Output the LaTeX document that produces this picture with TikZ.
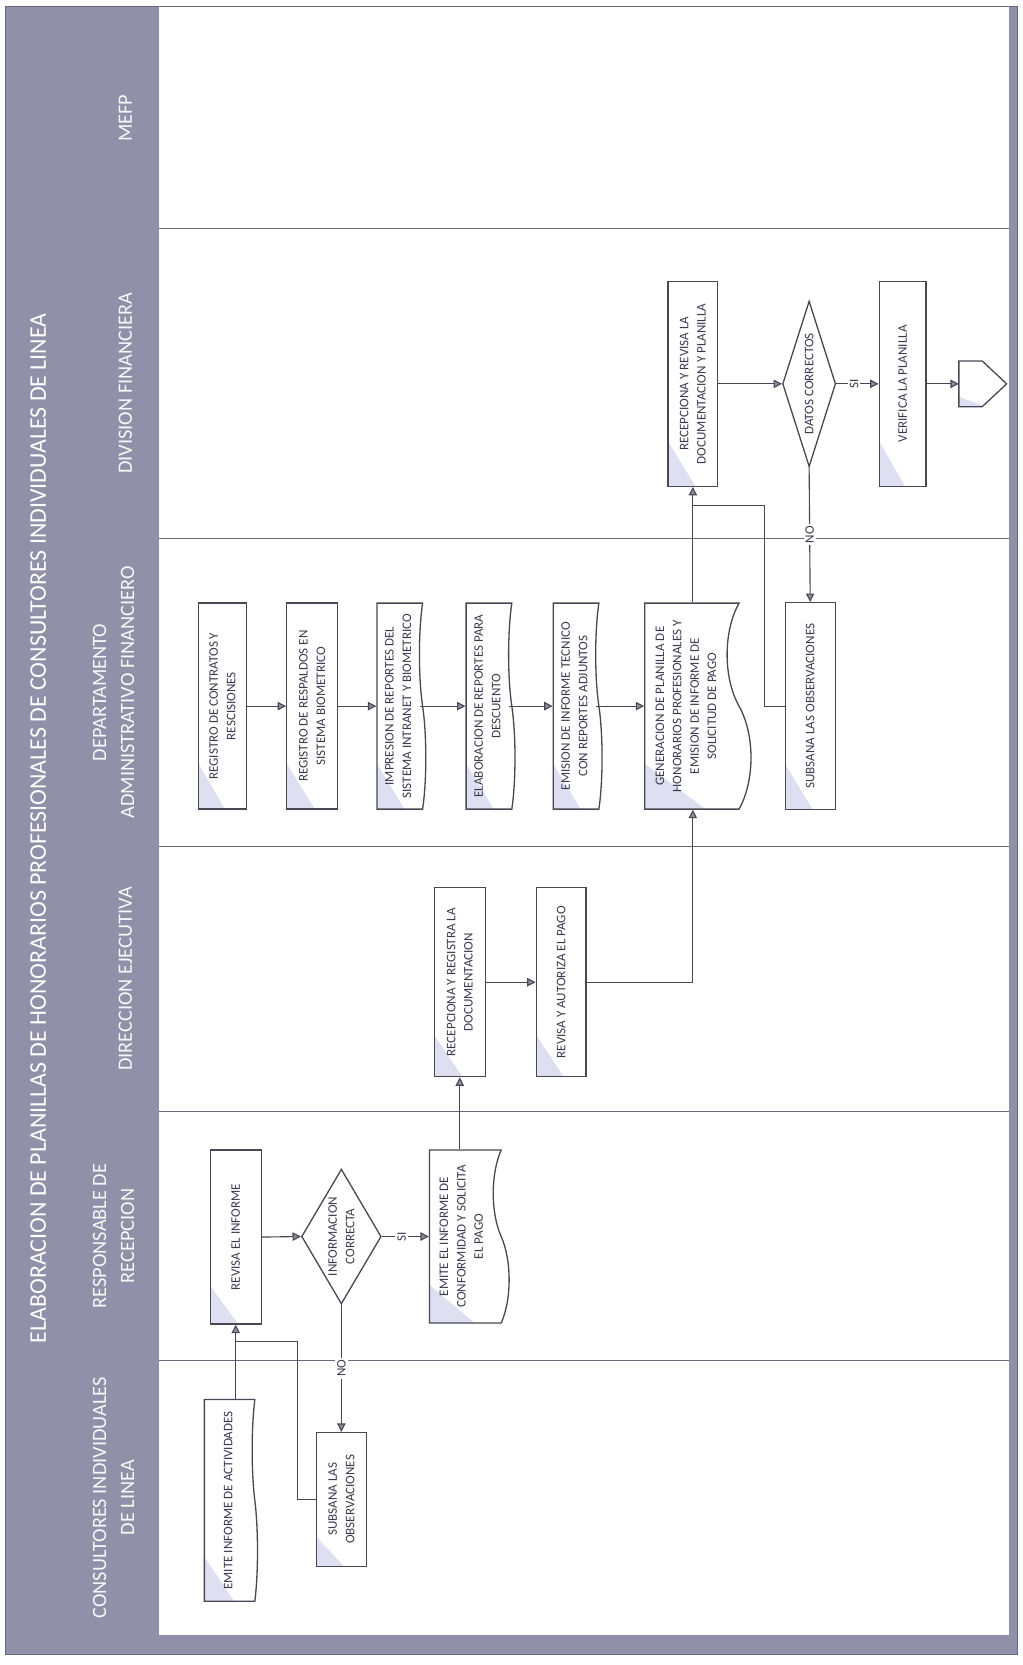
\documentclass[tikz,border=0pt]{standalone}
\usepackage{fontspec}
\setmainfont{Carlito}
\usetikzlibrary{arrows.meta,positioning,calc,shapes.geometric,shapes.symbols}
\definecolor{headcol}{RGB}{144,144,168}
\definecolor{linecol}{RGB}{72,72,84}
\definecolor{lanecol}{RGB}{105,105,125}
\definecolor{tintcol}{RGB}{222,224,242}
\definecolor{tipcol}{RGB}{140,140,155}
\definecolor{txtcol}{RGB}{58,58,78}
\newcommand{\boxtxt}{\fontsize{7}{9.3}\selectfont}

\tikzset{
  lanelbl/.style={font=\fontsize{10.9}{15}\selectfont,text=white!94!headcol,align=center},
  tinted/.style={path picture={
      \fill[tintcol] (path picture bounding box.south west)
        -- ($(path picture bounding box.south west)!0.55!(path picture bounding box.south east)$)
        -- ($(path picture bounding box.south west)!0.22!(path picture bounding box.north west)$) -- cycle;}},
  procbox/.style={rectangle,draw=linecol,line width=0.7pt,fill=white,tinted,font=\boxtxt,
    text=txtcol,align=center,minimum height=0.94cm,inner sep=1pt},
  docbox/.style={procbox,tape,tape bend top=none,tape bend bottom=in and out,tape bend height=1.2mm},
  decbox/.style={diamond,draw=linecol,line width=0.7pt,fill=white,font=\boxtxt,text=txtcol,
    align=center,inner sep=0pt},
  offpage/.style={draw=linecol,line width=0.7pt,fill=white,tinted},
  flow/.style={draw=linecol,line width=0.6pt},
  arr/.style={flow,-{Triangle[length=4.5pt,width=4.5pt,fill=tipcol]}},
  yesno/.style={fill=white,font=\boxtxt,text=txtcol,inner sep=1pt}
}

\begin{document}
\begin{tikzpicture}[rotate=90,transform shape]
  \useasboundingbox (0,0) rectangle (31.36,19.26);
  % frame, header and lanes
  \fill[headcol] (0.2,16.26) rectangle (31.24,19.16);
  \fill[headcol] (0.2,0.1) rectangle (0.56,19.16);
  \fill[headcol] (0.2,0.1) rectangle (31.24,0.26);
  \draw[lanecol,line width=0.5pt] (0.2,0.1) rectangle (31.24,19.16);
  \foreach \xx in {5.74,10.42,15.42,21.22,27.06}
    \draw[lanecol,line width=0.6pt] (\xx,0.26) -- (\xx,16.26);

  \node[font=\fontsize{12.8}{15}\selectfont,text=white] (title) at (15.76,18.54)
    {ELABORACION DE PLANILLAS DE HONORARIOS PROFESIONALES DE CONSULTORES INDIVIDUALES DE LINEA};
  \node[lanelbl] (lblCons) at (3.15,17.12) {CONSULTORES INDIVIDUALES\\DE LINEA};
  \node[lanelbl] (lblResp) at (8.08,17.12) {RESPONSABLE DE\\RECEPCION};
  \node[lanelbl] (lblDir) at (12.92,16.9) {DIRECCION EJECUTIVA};
  \node[lanelbl] (lblDep) at (18.32,17.12) {DEPARTAMENTO\\ADMINISTRATIVO FINANCIERO};
  \node[lanelbl] (lblDiv) at (24.14,16.9) {DIVISION FINANCIERA};
  \node[lanelbl] (lblMef) at (29.13,16.9) {MEFP};

  % consultores individuales
  \node[docbox,minimum width=3.8cm,minimum height=1cm,tape bend height=1mm] (emiteInf) at (3.10,14.96)
    {EMITE INFORME DE ACTIVIDADES};
  \node[procbox,minimum width=2.52cm] (subsanaA) at (3.12,12.83) {SUBSANA LAS\\OBSERVACIONES};

  % responsable de recepcion
  \node[procbox,minimum width=3.28cm,minimum height=0.96cm] (revInf) at (8.06,14.82) {REVISA EL INFORME};
  \node[decbox,minimum width=2.54cm,minimum height=1.5cm,aspect=1.7] (infoOk) at (8.07,12.83)
    {INFORMACION\\CORRECTA};
  \node[docbox,minimum width=3.26cm,minimum height=1.5cm,tape bend height=3mm] (emiteConf) at (8.07,10.57)
    {EMITE EL INFORME DE\\CONFORMIDAD Y SOLICITA\\EL PAGO};

  % direccion ejecutiva
  \node[procbox,minimum width=3.56cm,minimum height=0.96cm] (recReg) at (12.86,10.60)
    {RECEPCIONA Y REGISTRA LA\\DOCUMENTACION};
  \node[procbox,minimum width=3.56cm] (revAut) at (12.86,8.69) {REVISA Y AUTORIZA EL PAGO};

  % departamento administrativo financiero
  \node[procbox,minimum width=3.88cm,minimum height=0.9cm] (regCont) at (18.06,15.07)
    {REGISTRO DE CONTRATOS Y\\RESCISIONES};
  \node[procbox,minimum width=3.88cm,minimum height=0.96cm] (regResp) at (18.06,13.38)
    {REGISTRO DE RESPALDOS EN\\SISTEMA BIOMETRICO};
  \node[docbox,minimum width=3.88cm,minimum height=0.92cm] (impRep) at (18.06,11.76)
    {IMPRESION DE REPORTES DEL\\SISTEMA INTRANET Y BIOMETRICO};
  \node[docbox,minimum width=3.88cm,minimum height=0.92cm] (elabRep) at (18.06,10.08)
    {ELABORACION DE REPORTES PARA\\DESCUENTO};
  \node[docbox,minimum width=3.88cm,minimum height=0.92cm] (emiInfTec) at (18.06,8.44)
    {EMISION DE INFORME TECNICO\\CON REPORTES ADJUNTOS};
  \node[docbox,minimum width=3.88cm,minimum height=2cm,tape bend height=4.5mm] (genPla) at (18.06,6.34)
    {GENERACION DE PLANILLA DE\\HONORARIOS PROFESIONALES Y\\EMISION DE INFORME DE\\SOLICITUD DE PAGO};
  \node[procbox,minimum width=3.9cm] (subsanaB) at (18.06,4.00) {SUBSANA LAS OBSERVACIONES};

  % division financiera
  \node[procbox,minimum width=3.86cm] (recRev) at (24.13,6.21)
    {RECEPCIONA Y REVISA LA\\DOCUMENTACION Y PLANILLA};
  \node[decbox,minimum width=3.12cm,minimum height=1cm,aspect=3.1] (datosOk) at (24.13,4.02) {DATOS CORRECTOS};
  \node[procbox,minimum width=3.86cm,minimum height=0.88cm] (verifica) at (24.13,2.26) {VERIFICA LA PLANILLA};
  \coordinate (endPent) at (24.13,1.20);
  \filldraw[offpage] ($(endPent)+(-0.43,0)$) -- ($(endPent)+(0.43,0)$) -- ++(0,-0.44)
    -- ($(endPent)+(0,-0.9)$) -- ($(endPent)+(-0.43,-0.44)$) -- cycle;

  % connectors
  \coordinate (joinA) at (6.10,14.82);
  \coordinate (joinB) at (21.84,6.21);
  \draw[arr] (emiteInf.east |- revInf.west) -- (revInf.west);
  \draw[arr] (revInf.south) -- (infoOk.north);
  \draw[arr] (infoOk.south) -- node[yesno,pos=0.42]{SI} (emiteConf.north);
  \draw[arr] (infoOk.west) -- node[yesno]{NO} (subsanaA.east);
  \draw[flow] (subsanaA.north) -- ++(0,0.34) -| (joinA);
  \draw[arr] (emiteConf.east |- recReg.west) -- (recReg.west);
  \draw[arr] (recReg.south) -- (revAut.north);
  \draw[arr] (revAut.south) |- (genPla.west |- recRev.west);
  \foreach \a/\b in {regCont/regResp,regResp/impRep,impRep/elabRep,elabRep/emiInfTec,emiInfTec/genPla}
    \draw[arr] (\a.south) -- (\b.north);
  \draw[arr] (genPla.east |- recRev.west) -- (recRev.west);
  \draw[arr] (recRev.south) -- (datosOk.north);
  \draw[arr] (datosOk.south) -- node[yesno,pos=0.42]{SI} (verifica.north);
  \draw[arr] (datosOk.west) -- node[yesno]{NO} (subsanaB.east);
  \draw[flow] (subsanaB.north) -- ++(0,0.38) -| (joinB);
  \draw[arr] (verifica.south) -- (endPent);
\end{tikzpicture}
\end{document}
